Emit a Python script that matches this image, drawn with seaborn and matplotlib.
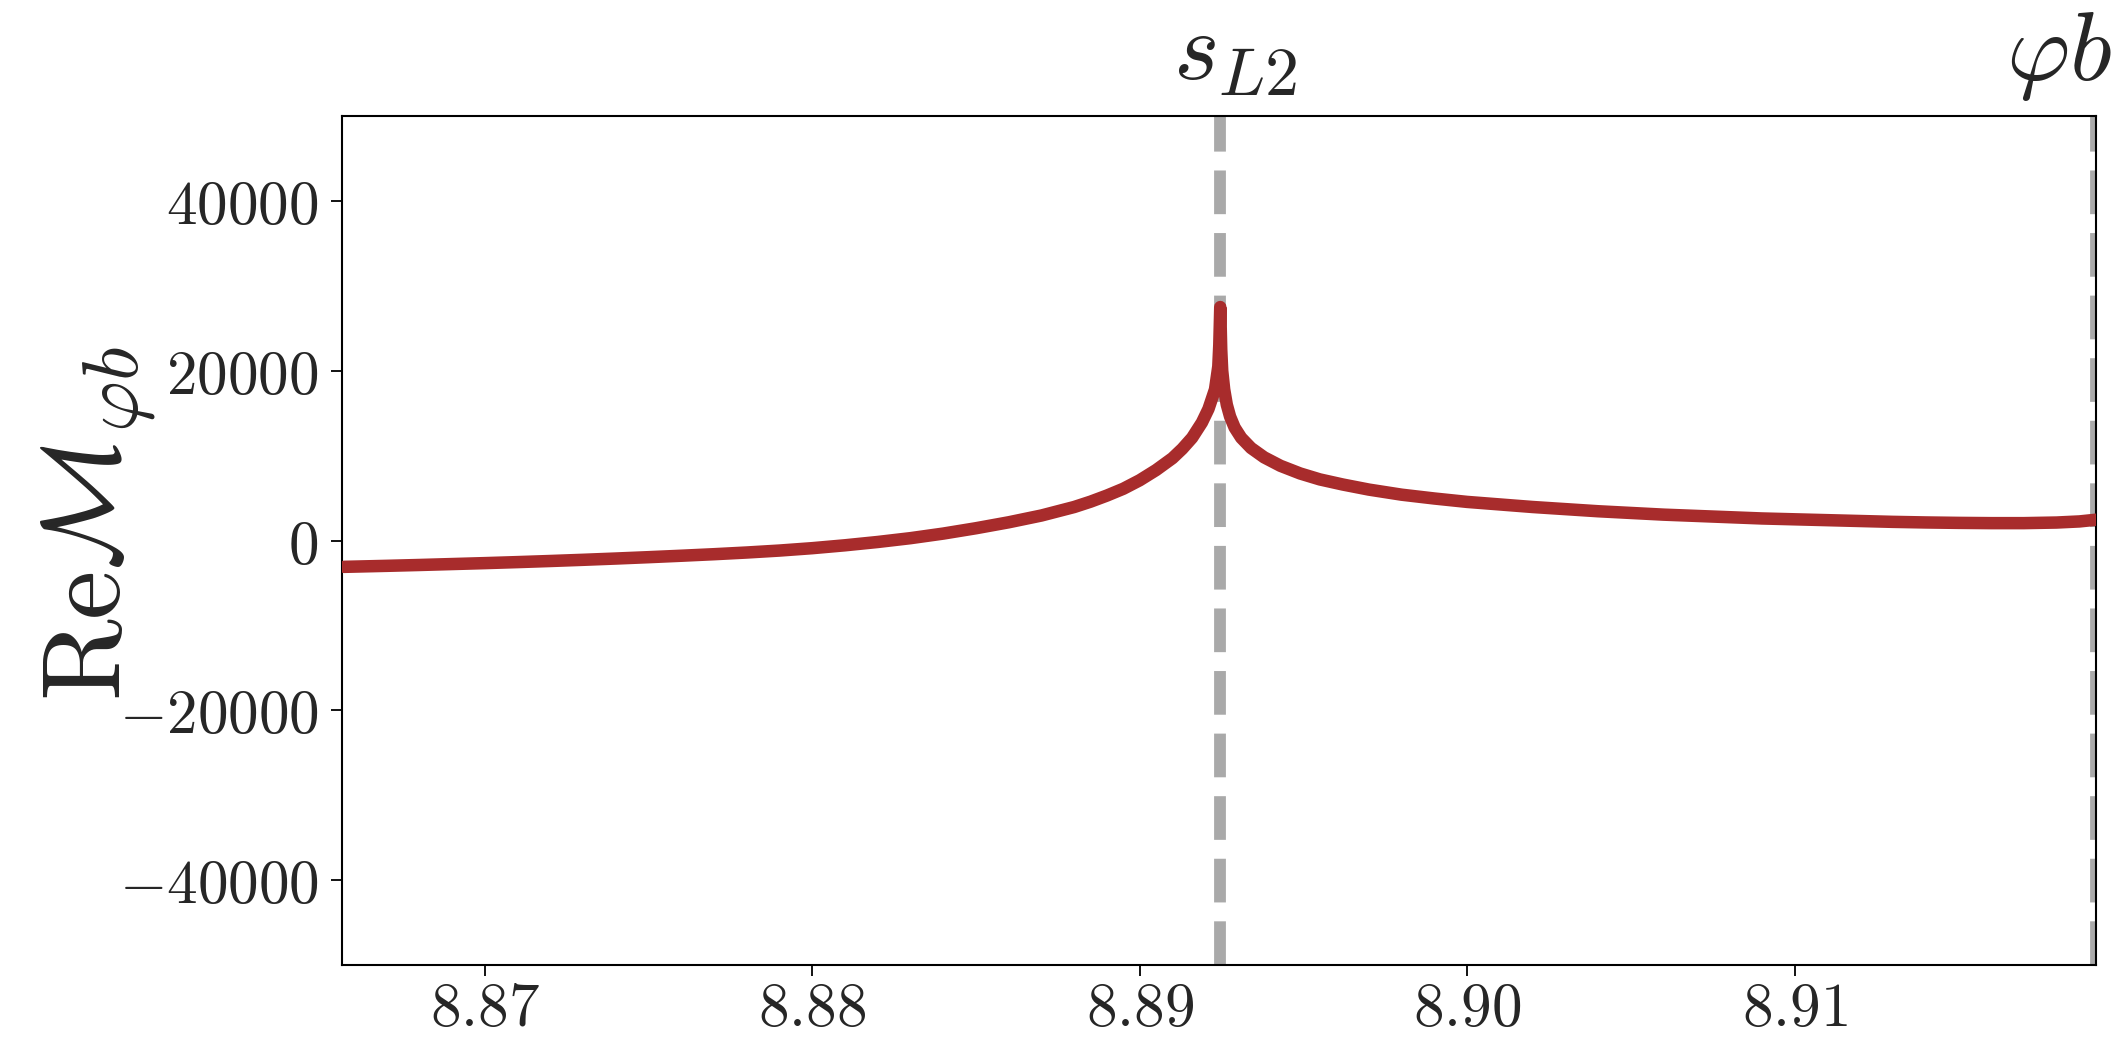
import numpy as np
import pandas as pd
import matplotlib
matplotlib.use("Agg")
import matplotlib.pyplot as plt
from matplotlib.ticker import FuncFormatter, FixedLocator
import seaborn as sns

# Real part of the amplitude around the s_L2 singularity
s_vals = [8.8657, 8.867, 8.868, 8.869, 8.870, 8.871, 8.872, 8.873, 8.874, 8.875,
          8.876, 8.877, 8.878, 8.879, 8.880, 8.881, 8.882, 8.883, 8.884, 8.885,
          8.886, 8.887, 8.888, 8.8885, 8.889, 8.8895, 8.890, 8.8905, 8.891, 8.8913,
          8.8916, 8.8919, 8.8921, 8.8923, 8.8924, 8.89243, 8.89246,
          8.89249, 8.89252, 8.89258, 8.89266, 8.89276, 8.8929, 8.8931, 8.8934,
          8.8938, 8.8943, 8.8949, 8.8955, 8.8962, 8.897, 8.898, 8.899, 8.900,
          8.901, 8.902, 8.903, 8.904, 8.905, 8.906, 8.907, 8.908, 8.909, 8.910,
          8.911, 8.912, 8.913, 8.914, 8.915, 8.916, 8.917, 8.918, 8.9187, 8.9192]
re_m_vals = [-3100, -2980, -2880, -2770, -2660, -2540, -2410, -2270, -2120, -1960,
             -1790, -1610, -1410, -1180, -900, -560, -170, 280, 820, 1450,
             2150, 2950, 3950, 4580, 5300, 6100, 7100, 8300, 9700, 10800,
             12100, 13900, 15500, 17800, 20500, 23000, 27500,
             22500, 20000, 17800, 16000, 14600, 13300, 12100, 10900,
             9800, 8800, 7900, 7200, 6600, 6000, 5400, 4950, 4550,
             4250, 3950, 3700, 3450, 3250, 3050, 2900, 2750, 2600, 2500,
             2400, 2300, 2200, 2130, 2080, 2050, 2050, 2120, 2250, 2450]

# Thresholds and their labels
threshold_pos = [8.89246, 8.9192]
threshold_labels = [r"$s_{L2}$", r"$\varphi b$"]
label_centers = [8.89291, 8.91808]

x_ticks = [8.87, 8.88, 8.89, 8.90, 8.91]
y_ticks = [-40000, -20000, 0, 20000, 40000]

df = pd.DataFrame({"s": s_vals, "ReM": re_m_vals})

sns.set_theme(style="ticks")
plt.rcParams["mathtext.fontset"] = "cm"
plt.rcParams["font.family"] = ["DejaVu Sans"]

fig = plt.figure(figsize=(21.26, 10.37), dpi=100)
ax = fig.add_axes([0.1609, 0.0694, 0.8249, 0.8187])
ax.set_facecolor("white")
fig.patch.set_facecolor("white")

for xv in threshold_pos:
    ax.axvline(xv, color="#a9a9a9", lw=8.5, ls="--", zorder=1)

sns.lineplot(data=df, x="s", y="ReM", color="#a82c2c", lw=9, ax=ax,
             estimator=None, sort=False, zorder=3)

ax.set_xlim(8.86564, threshold_pos[1])
ax.set_ylim(-50000, 50000)

ax.xaxis.set_major_locator(FixedLocator(x_ticks))
ax.yaxis.set_major_locator(FixedLocator(y_ticks))
ax.xaxis.set_major_formatter(FuncFormatter(lambda v, p: rf"${v:.2f}$"))
ax.yaxis.set_major_formatter(FuncFormatter(lambda v, p: rf"${v:.0f}$"))
ax.tick_params(axis="both", which="major", labelsize=44, length=8, width=1.3,
               color="black", direction="out")
ax.tick_params(axis="x", pad=3)
ax.tick_params(axis="y", pad=9)

for sp in ax.spines.values():
    sp.set_visible(True)
    sp.set_color("black")
    sp.set_linewidth(1.5)

ax.set_xlabel("")
ax.set_ylabel(r"$\mathrm{Re}\mathcal{M}_{\varphi b}$", fontsize=80)
ax.yaxis.set_label_coords(-0.104, 0.52)

for xc, lab in zip(label_centers, threshold_labels):
    ax.text(xc, 1.043, lab, transform=ax.get_xaxis_transform(),
            ha="center", va="baseline", fontsize=70)

fig.savefig("out.png", dpi=100, facecolor="white")
